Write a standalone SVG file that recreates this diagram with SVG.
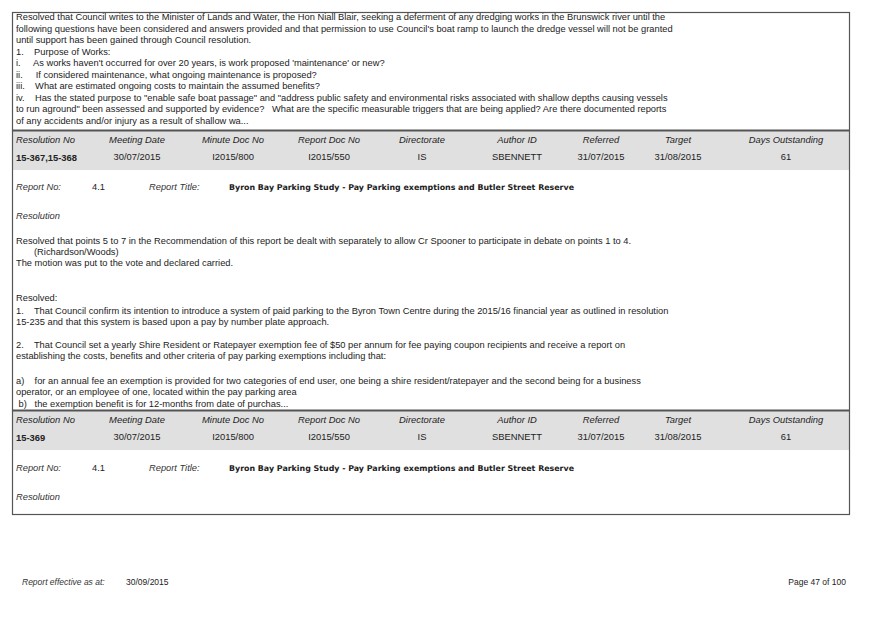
<svg xmlns="http://www.w3.org/2000/svg" width="875" height="619" viewBox="0 0 875 619">
<style>
text{font-family:"Liberation Sans",Arial,sans-serif;font-size:9.3px;fill:#222;white-space:pre}
.i{font-style:italic;fill:#333}
.h{font-style:italic;font-size:9.4px}
.v{font-size:9.4px}
.c{text-anchor:middle}
.b{font-weight:bold}
.t{font-family:"DejaVu Sans",sans-serif;font-weight:bold;font-size:7.9px}
.f{font-size:8.5px}
</style>
<rect x="0" y="0" width="875" height="619" fill="#fff"/>
<g id="bands">
<rect x="12" y="130" width="837" height="40" fill="#e0e0e0"/>
<rect x="12" y="410" width="837" height="40" fill="#e0e0e0"/>
</g>
<g id="frame" fill="none" stroke="#555">
<rect x="12.5" y="12.5" width="837" height="502" stroke-width="1.2"/>
<line x1="12" y1="130.5" x2="849" y2="130.5" stroke-width="2"/>
<line x1="12" y1="410.5" x2="849" y2="410.5" stroke-width="2"/>
</g>
<g id="block1" xml:space="preserve">
<text x="16" y="20">Resolved that Council writes to the Minister of Lands and Water, the Hon Niall Blair, seeking a deferment of any dredging works in the Brunswick river until the</text>
<text x="16" y="32">following questions have been considered and answers provided and that permission to use Council's boat ramp to launch the dredge vessel will not be granted</text>
<text x="16" y="43">until support has been gained through Council resolution.</text>
<text x="16" y="55">1.    Purpose of Works:</text>
<text x="16" y="66">i.     As works haven't occurred for over 20 years, is work proposed 'maintenance' or new?</text>
<text x="16" y="78">ii.     If considered maintenance, what ongoing maintenance is proposed?</text>
<text x="16" y="89">iii.    What are estimated ongoing costs to maintain the assumed benefits?</text>
<text x="16" y="101">iv.    Has the stated purpose to "enable safe boat passage" and "address public safety and environmental risks associated with shallow depths causing vessels</text>
<text x="16" y="112">to run aground" been assessed and supported by evidence?   What are the specific measurable triggers that are being applied? Are there documented reports</text>
<text x="16" y="124">of any accidents and/or injury as a result of shallow wa...</text>
</g>
<g id="header1">
<text class="h" x="16" y="143">Resolution No</text>
<text class="h c" x="137" y="143">Meeting Date</text>
<text class="h c" x="233" y="143">Minute Doc No</text>
<text class="h c" x="329" y="143">Report Doc No</text>
<text class="h c" x="422" y="143">Directorate</text>
<text class="h c" x="517" y="143">Author ID</text>
<text class="h c" x="601" y="143">Referred</text>
<text class="h c" x="678" y="143">Target</text>
<text class="h c" x="786" y="143">Days Outstanding</text>
<text class="v b" x="16" y="161">15-367,15-368</text>
<text class="v c" x="137" y="160">30/07/2015</text>
<text class="v c" x="233" y="160">I2015/800</text>
<text class="v c" x="329" y="160">I2015/550</text>
<text class="v c" x="422" y="160">IS</text>
<text class="v c" x="517" y="160">SBENNETT</text>
<text class="v c" x="601" y="160">31/07/2015</text>
<text class="v c" x="678" y="160">31/08/2015</text>
<text class="v c" x="786" y="160">61</text>
</g>
<g id="block2" xml:space="preserve">
<text class="i" x="16" y="190">Report No:</text>
<text x="92" y="190">4.1</text>
<text class="i" x="149" y="190">Report Title:</text>
<text class="t" x="229" y="190">Byron Bay Parking Study - Pay Parking exemptions and Butler Street Reserve</text>
<text class="i" x="16" y="219">Resolution</text>
<text x="16" y="244">Resolved that points 5 to 7 in the Recommendation of this report be dealt with separately to allow Cr Spooner to participate in debate on points 1 to 4.</text>
<text x="34" y="255">(Richardson/Woods)</text>
<text x="16" y="266">The motion was put to the vote and declared carried.</text>
<text x="16" y="301">Resolved:</text>
<text x="16" y="314">1.    That Council confirm its intention to introduce a system of paid parking to the Byron Town Centre during the 2015/16 financial year as outlined in resolution</text>
<text x="16" y="325">15-235 and that this system is based upon a pay by number plate approach.</text>
<text x="16" y="348">2.    That Council set a yearly Shire Resident or Ratepayer exemption fee of $50 per annum for fee paying coupon recipients and receive a report on</text>
<text x="16" y="359">establishing the costs, benefits and other criteria of pay parking exemptions including that:</text>
<text x="16" y="384">a)    for an annual fee an exemption is provided for two categories of end user, one being a shire resident/ratepayer and the second being for a business</text>
<text x="16" y="395">operator, or an employee of one, located within the pay parking area</text>
<text x="16" y="407"> b)   the exemption benefit is for 12-months from date of purchas...</text>
</g>
<g id="header2">
<text class="h" x="16" y="423">Resolution No</text>
<text class="h c" x="137" y="423">Meeting Date</text>
<text class="h c" x="233" y="423">Minute Doc No</text>
<text class="h c" x="329" y="423">Report Doc No</text>
<text class="h c" x="422" y="423">Directorate</text>
<text class="h c" x="517" y="423">Author ID</text>
<text class="h c" x="601" y="423">Referred</text>
<text class="h c" x="678" y="423">Target</text>
<text class="h c" x="786" y="423">Days Outstanding</text>
<text class="v b" x="16" y="441">15-369</text>
<text class="v c" x="137" y="440">30/07/2015</text>
<text class="v c" x="233" y="440">I2015/800</text>
<text class="v c" x="329" y="440">I2015/550</text>
<text class="v c" x="422" y="440">IS</text>
<text class="v c" x="517" y="440">SBENNETT</text>
<text class="v c" x="601" y="440">31/07/2015</text>
<text class="v c" x="678" y="440">31/08/2015</text>
<text class="v c" x="786" y="440">61</text>
</g>
<g id="block3">
<text class="i" x="16" y="471">Report No:</text>
<text x="92" y="471">4.1</text>
<text class="i" x="149" y="471">Report Title:</text>
<text class="t" x="229" y="471">Byron Bay Parking Study - Pay Parking exemptions and Butler Street Reserve</text>
<text class="i" x="16" y="500">Resolution</text>
</g>
<g id="footer">
<text class="i f" x="22" y="585">Report effective as at:</text>
<text class="f" x="126" y="585">30/09/2015</text>
<text class="f" x="846" y="585" text-anchor="end">Page 47 of 100</text>
</g>
</svg>
